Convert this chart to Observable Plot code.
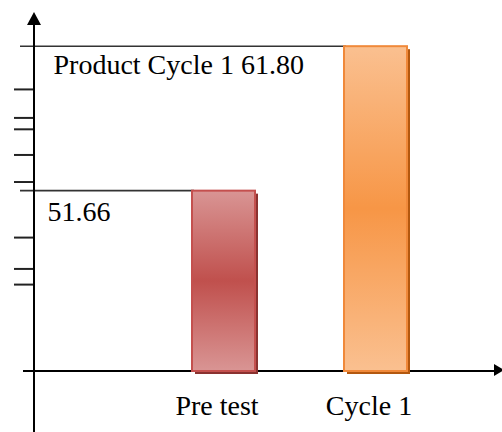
<!DOCTYPE html>
<html><head><meta charset="utf-8">
<script src="https://cdn.jsdelivr.net/npm/d3@7"></script>
<script src="https://cdn.jsdelivr.net/npm/@observablehq/plot@0.6"></script>
<style>
body{margin:0;background:#fff}
svg text{font-family:"Liberation Serif","Times New Roman",serif !important;}
</style>
</head><body><div id="chart"></div>
<script>
const categories = ["Pre test", "Cycle 1"];
const values = [51.66, 61.80];
const valueLabels = ["51.66", "Product Cycle 1 61.80"];
const yTicks = [58.8, 56.8, 56.0, 54.2, 52.3, 48.4, 46.2, 45.1];
const yDomain = [39, 64.2];
const lightColors = ["#d99594", "#fac090"];
const darkColors = ["#c0504d", "#f79646"];
const strokeColors = ["#c4504e", "#f0893a"];
const shadowColors = ["#8a3230", "#b3580f"];

const data = categories.map((c, i) => ({category: c, value: values[i], label: valueLabels[i], i}));
const base = yDomain[0];
const FONT = "Liberation Serif, Times New Roman, serif";

function defs() {
  const g = d3.create("svg:defs");
  data.forEach(d => {
    const lg = g.append("linearGradient").attr("id", "grad" + d.i)
      .attr("x1", 0).attr("y1", 0).attr("x2", 0).attr("y2", 1);
    lg.append("stop").attr("offset", "0%").attr("stop-color", lightColors[d.i]);
    lg.append("stop").attr("offset", "50%").attr("stop-color", darkColors[d.i]);
    lg.append("stop").attr("offset", "100%").attr("stop-color", lightColors[d.i]);
  });
  return g.node();
}

function leaders(index, scales, vals, dims) {
  const g = d3.create("svg:g");
  const x0 = dims.marginLeft;
  data.forEach(d => {
    g.append("line")
      .attr("x1", x0 - 14).attr("x2", scales.x(d.category) + 2)
      .attr("y1", scales.y(d.value)).attr("y2", scales.y(d.value))
      .attr("stroke", "#333").attr("stroke-width", 1.6);
  });
  return g.node();
}

function axes(index, scales, vals, dims) {
  const g = d3.create("svg:g");
  const x0 = dims.marginLeft, y0 = scales.y(base), top = dims.marginTop;
  g.append("line").attr("x1", x0).attr("x2", x0).attr("y1", top + 6).attr("y2", dims.height)
    .attr("stroke", "#000").attr("stroke-width", 2);
  g.append("path").attr("d", `M${x0},${top}L${x0 - 7},${top + 13}L${x0 + 7},${top + 13}Z`).attr("fill", "#000");
  g.append("line").attr("x1", x0 - 11).attr("x2", dims.width - 6).attr("y1", y0).attr("y2", y0)
    .attr("stroke", "#000").attr("stroke-width", 2);
  g.append("path").attr("d", `M${dims.width + 2},${y0 - 1}L${dims.width - 8},${y0 - 7}L${dims.width - 8},${y0 + 5}Z`).attr("fill", "#000");
  return g.node();
}

const chart = Plot.plot({
  width: 502,
  height: 432,
  marginTop: 12,
  marginBottom: 61,
  marginLeft: 34,
  marginRight: 0,
  style: {fontFamily: FONT, background: "#fff", color: "#000"},
  x: {domain: categories, paddingInner: 0.5836, paddingOuter: 0.826, align: 0.627},
  y: {domain: yDomain},
  color: {type: "identity"},
  marks: [
    defs,
    leaders,
    Plot.axisY(yTicks, {tickSize: 20, tickFormat: () => "", label: null, stroke: "#222", strokeWidth: 2}),
    axes,
    Plot.barY(data, {x: "category", y1: base, y2: "value", fill: d => shadowColors[d.i], dx: 3, dy: 3}),
    Plot.barY(data, {x: "category", y1: base, y2: "value", fill: d => `url(#grad${d.i})`, stroke: d => strokeColors[d.i], strokeWidth: 2}),
    Plot.axisX({tickSize: 0, tickPadding: 24, fontSize: 28, fontFamily: FONT, label: null, dx: -7, fill: "#000"}),
    Plot.text([data[1]], {text: "label", y: "value", frameAnchor: "left", dx: 19, dy: 7, lineAnchor: "top", textAnchor: "start", fontSize: 28, fontFamily: FONT, fill: "#000"}),
    Plot.text([data[0]], {text: "label", y: "value", frameAnchor: "left", dx: 13, dy: 10, lineAnchor: "top", textAnchor: "start", fontSize: 28, fontFamily: FONT, fill: "#000"})
  ]
});
document.getElementById("chart").appendChild(chart);
</script>
</body></html>
